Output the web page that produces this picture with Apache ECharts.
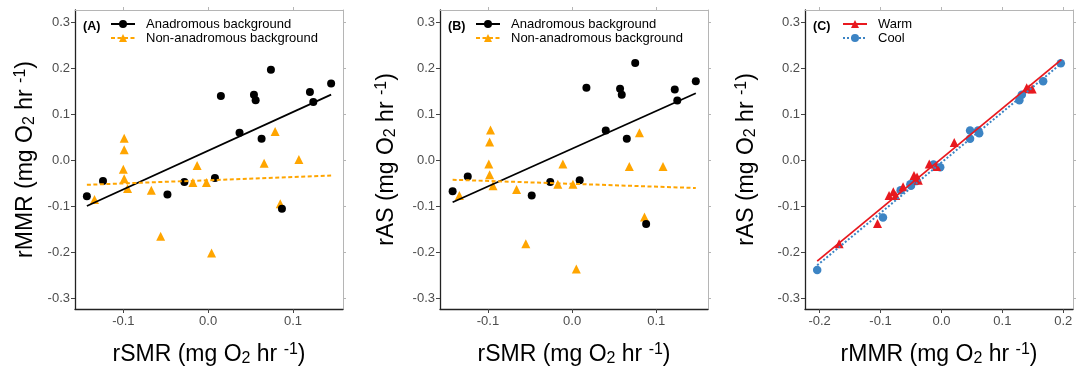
<!DOCTYPE html>
<html>
<head>
<meta charset="utf-8">
<script src="https://cdn.jsdelivr.net/npm/echarts@6/dist/echarts.min.js"></script>
<style>html,body{margin:0;padding:0;background:#fff}#c{width:1077px;height:372px}</style>
</head>
<body>
<div id="c"></div>
<script>
// ---- data ----
const yTicks = [-0.3, -0.2, -0.1, 0.0, 0.1, 0.2, 0.3];
const xTicksAB = [-0.1, 0.0, 0.1];
const xTicksC = [-0.2, -0.1, 0.0, 0.1, 0.2];

// Panel A: rSMR vs rMMR
const aAnadromous = [[-0.143,-0.078],[-0.124,-0.045],[-0.048,-0.074],[-0.028,-0.047],[0.008,-0.038],[0.015,0.140],[0.037,0.060],[0.054,0.143],[0.056,0.131],[0.063,0.047],[0.074,0.197],[0.087,-0.105],[0.120,0.149],[0.124,0.127],[0.145,0.167]];
const aNonAnadromous = [[-0.134,-0.085],[-0.099,0.048],[-0.099,0.023],[-0.100,-0.019],[-0.099,-0.040],[-0.095,-0.061],[-0.067,-0.065],[-0.056,-0.165],[-0.018,-0.048],[-0.013,-0.011],[-0.002,-0.048],[0.004,-0.201],[0.066,-0.006],[0.079,0.063],[0.085,-0.094],[0.107,0.002]];
const aFitAnadromous = [[-0.143,-0.099],[0.145,0.143]];
const aFitNonAnadromous = [[-0.143,-0.053],[0.145,-0.033]];

// Panel B: rSMR vs rAS
const bAnadromous = [[-0.142,-0.067],[-0.124,-0.035],[-0.048,-0.076],[-0.026,-0.047],[0.009,-0.043],[0.017,0.158],[0.040,0.065],[0.057,0.156],[0.059,0.143],[0.065,0.047],[0.075,0.212],[0.088,-0.138],[0.122,0.154],[0.125,0.130],[0.147,0.172]];
const bNonAnadromous = [[-0.134,-0.076],[-0.097,0.066],[-0.098,0.040],[-0.099,-0.008],[-0.098,-0.031],[-0.094,-0.055],[-0.066,-0.063],[-0.055,-0.181],[-0.017,-0.052],[-0.011,-0.008],[0.001,-0.052],[0.005,-0.236],[0.068,-0.013],[0.080,0.060],[0.086,-0.123],[0.108,-0.013]];
const bFitAnadromous = [[-0.142,-0.091],[0.147,0.146]];
const bFitNonAnadromous = [[-0.142,-0.042],[0.147,-0.060]];

// Panel C: rMMR vs rAS
const cWarm = [[-0.168,-0.181],[-0.105,-0.137],[-0.086,-0.076],[-0.079,-0.068],[-0.075,-0.076],[-0.063,-0.057],[-0.045,-0.033],[-0.040,-0.036],[-0.038,-0.043],[-0.020,-0.008],[-0.008,-0.013],[0.021,0.039],[0.140,0.158],[0.144,0.156],[0.149,0.155]];
const cCool = [[-0.204,-0.238],[-0.096,-0.124],[-0.067,-0.065],[-0.051,-0.052],[-0.050,-0.055],[-0.042,-0.045],[-0.013,-0.009],[-0.002,-0.015],[0.047,0.065],[0.047,0.047],[0.060,0.065],[0.062,0.059],[0.128,0.131],[0.132,0.143],[0.167,0.172],[0.196,0.211]];
const cFitWarm = [[-0.204,-0.219],[0.197,0.219]];
const cFitCool = [[-0.204,-0.228],[0.197,0.211]];

// ---- layout / style ----
const FONT = '"Liberation Sans", Arial, sans-serif';
const BLACK = '#000000', ORANGE = '#FFA500', RED = '#E8191F', BLUE = '#3C84C4';
const yRange = [-0.323, 0.327];
const panels = [
  {left: 75, xRange: [-0.157, 0.159], xTicks: xTicksAB, xName: 'rSMR', yName: 'rMMR', yGap: 37, tag: '(A)', legendLeft: 110},
  {left: 440, xRange: [-0.157, 0.1615], xTicks: xTicksAB, xName: 'rSMR', yName: 'rAS', yGap: 41, tag: '(B)', legendLeft: 475},
  {left: 805, xRange: [-0.224, 0.216], xTicks: xTicksC, xName: 'rMMR', yName: 'rAS', yGap: 46, tag: '(C)', legendLeft: 842}
];
const fmt = v => (Math.abs(v) < 1e-9 ? 0 : v).toFixed(1);
const richName = {
  a: {fontSize: 23, lineHeight: 25, color: '#000', fontFamily: FONT},
  sub: {fontSize: 16, lineHeight: 14, verticalAlign: 'bottom', color: '#000', fontFamily: FONT},
  sup: {fontSize: 16, lineHeight: 14, verticalAlign: 'top', color: '#000', fontFamily: FONT}
};
const unitName = lab => '{a|' + lab + ' (mg O}{sub|2}{a| hr }{sup|-1}{a|)}';

const grid = [], xAxis = [], yAxis = [], title = [], legend = [];
panels.forEach((p, i) => {
  grid.push({left: p.left, top: 10, width: 268, height: 301, show: false});
  xAxis.push({
    gridIndex: i, type: 'value', min: p.xRange[0], max: p.xRange[1], position: 'bottom',
    axisLine: {show: true, onZero: false, lineStyle: {color: '#222', width: 1.3}},
    axisTick: {show: true, customValues: p.xTicks, length: 4, lineStyle: {color: '#444'}},
    axisLabel: {customValues: p.xTicks, formatter: fmt, color: '#4d4d4d', fontSize: 13, margin: 6, fontFamily: FONT},
    splitLine: {show: false},
    name: unitName(p.xName), nameLocation: 'middle', nameGap: 33,
    nameTextStyle: {rich: richName}
  });
  xAxis.push({
    gridIndex: i, type: 'value', min: p.xRange[0], max: p.xRange[1], position: 'top',
    axisLine: {show: true, onZero: false, lineStyle: {color: '#b5b5b5', width: 1}},
    axisTick: {show: true, customValues: p.xTicks, length: 3, lineStyle: {color: '#b5b5b5'}},
    axisLabel: {show: false}, splitLine: {show: false}
  });
  yAxis.push({
    gridIndex: i, type: 'value', min: yRange[0], max: yRange[1], position: 'left',
    axisLine: {show: true, onZero: false, lineStyle: {color: '#222', width: 1.3}},
    axisTick: {show: true, customValues: yTicks, length: 4, lineStyle: {color: '#444'}},
    axisLabel: {customValues: yTicks, formatter: fmt, color: '#4d4d4d', fontSize: 13, margin: 5, fontFamily: FONT},
    splitLine: {show: false},
    name: unitName(p.yName), nameLocation: 'middle', nameGap: p.yGap,
    nameTextStyle: {rich: richName}
  });
  yAxis.push({
    gridIndex: i, type: 'value', min: yRange[0], max: yRange[1], position: 'right',
    axisLine: {show: true, onZero: false, lineStyle: {color: '#b5b5b5', width: 1}},
    axisTick: {show: true, customValues: yTicks, length: 3, lineStyle: {color: '#b5b5b5'}},
    axisLabel: {show: false}, splitLine: {show: false}
  });
  title.push({text: p.tag, left: p.left + 3, top: 15,
    textStyle: {fontSize: 12.5, fontWeight: 'bold', color: '#000', fontFamily: FONT}});
});

const nameAn = 'Anadromous background', nameNon = 'Non-anadromous background';
const legendCommon = {orient: 'vertical', top: 17, padding: 0, itemWidth: 24, itemHeight: 10, itemGap: 0,
  selectedMode: false,
  textStyle: {fontSize: 13, lineHeight: 14, color: '#000', fontFamily: FONT, padding: [0, 0, 0, 6]}};
legend.push(Object.assign({}, legendCommon, {left: panels[0].legendLeft, data: [nameAn, nameNon]}));
legend.push(Object.assign({}, legendCommon, {left: panels[1].legendLeft, data: [nameAn, nameNon]}));
legend.push(Object.assign({}, legendCommon, {left: panels[2].legendLeft, data: ['Warm', 'Cool']}));

function fit(idx, name, data, color, type, width) {
  return {type: 'line', name, xAxisIndex: 2 * idx, yAxisIndex: 2 * idx, data,
    symbol: name === 'Warm' || name === nameNon ? 'triangle' : 'circle', showSymbol: false,
    itemStyle: {color}, lineStyle: {color, type, width}, z: 4, silent: true, animation: false};
}
function pts(idx, name, data, color, symbol, size) {
  return {type: 'scatter', name, xAxisIndex: 2 * idx, yAxisIndex: 2 * idx, data,
    symbol, symbolSize: size, itemStyle: {color, opacity: 1}, z: 3, animation: false};
}
const series = [
  fit(0, nameAn, aFitAnadromous, BLACK, 'solid', 1.8),
  fit(0, nameNon, aFitNonAnadromous, ORANGE, [4, 2.5], 2),
  pts(0, nameNon, aNonAnadromous, ORANGE, 'triangle', 9),
  pts(0, nameAn, aAnadromous, BLACK, 'circle', 8),
  fit(1, nameAn, bFitAnadromous, BLACK, 'solid', 1.8),
  fit(1, nameNon, bFitNonAnadromous, ORANGE, [4, 2.5], 2),
  pts(1, nameNon, bNonAnadromous, ORANGE, 'triangle', 9),
  pts(1, nameAn, bAnadromous, BLACK, 'circle', 8),
  fit(2, 'Warm', cFitWarm, RED, 'solid', 1.8),
  fit(2, 'Cool', cFitCool, BLUE, [2, 2], 2),
  pts(2, 'Cool', cCool, BLUE, 'circle', 8.5),
  pts(2, 'Warm', cWarm, RED, 'triangle', 9)
];

const chart = echarts.init(document.getElementById('c'), null, {renderer: 'canvas'});
chart.setOption({animation: false, backgroundColor: '#fff', textStyle: {fontFamily: FONT},
  grid, xAxis, yAxis, title, legend, series});
</script>
</body>
</html>
